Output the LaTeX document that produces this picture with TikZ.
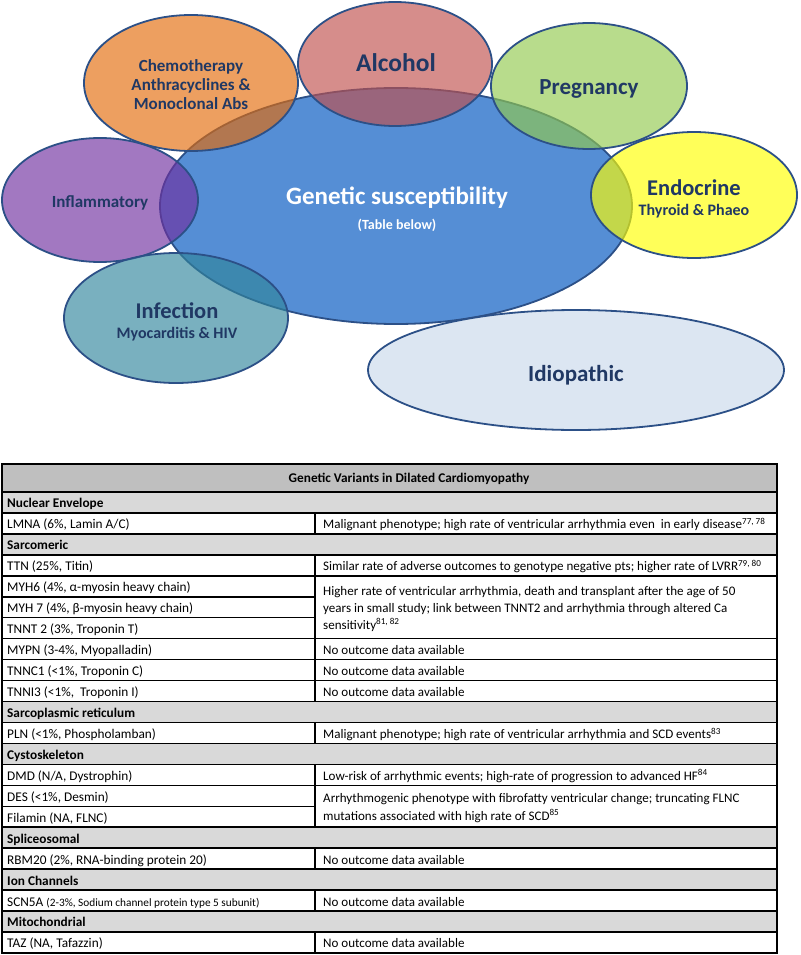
\documentclass[tikz,border=0pt]{standalone}
\usepackage{fontspec}
\setmainfont{Carlito}
\usetikzlibrary{shapes.geometric}
\definecolor{navy}{RGB}{32,56,100}
\definecolor{edge}{RGB}{44,80,135}
\definecolor{bigblue}{RGB}{85,142,213}
\definecolor{orangeC}{RGB}{228,108,10}
\definecolor{redC}{RGB}{192,80,77}
\definecolor{greenC}{RGB}{146,201,78}
\definecolor{yellowC}{RGB}{255,255,0}
\definecolor{purpleC}{RGB}{112,48,160}
\definecolor{tealC}{RGB}{49,133,156}
\definecolor{idioC}{RGB}{220,230,242}
\definecolor{hdrgray}{RGB}{191,191,191}
\definecolor{secgray}{RGB}{217,217,217}

\newcommand{\rowy}[1]{\pgfmathsetmacro\yt{492+(#1-1)*20.95}\pgfmathsetmacro\yb{492+#1*20.95}}
\newcommand{\secrow}[3]{\rowy{#1}%
  \draw[tbl, fill=secgray] (2,\yt) rectangle (777,\yb);
  \node[sect, anchor=base west] (#2) at (7,\yb-5) {#3};}
\newcommand{\datarow}[4]{\rowy{#1}%
  \draw[tbl] (2,\yt) rectangle (315,\yb);
  \draw[tbl] (315,\yt) rectangle (777,\yb);
  \node[cell, anchor=base west] (#2L) at (7,\yb-5) {#3};
  \node[cellR, anchor=base west] (#2R) at (323,\yb-5) {#4};}
\newcommand{\leftrow}[3]{\rowy{#1}%
  \draw[tbl] (2,\yt) rectangle (315,\yb);
  \node[cell, anchor=base west] (#2L) at (7,\yb-5) {#3};}

\begin{document}
\begin{tikzpicture}[x=1pt,y=-1pt,
  bub/.style={ellipse, draw=edge, line width=1.8pt, inner sep=0pt, fill opacity=0.65, text opacity=1},
  lab/.style={text=navy, align=center, inner sep=0pt, anchor=base},
  wlab/.style={text=white, align=center, inner sep=0pt, anchor=base},
  tbl/.style={draw=black, line width=1.5pt},
  cell/.style={inner sep=0pt, font=\fontsize{13.3}{16}\selectfont},
  cellR/.style={inner sep=0pt, font=\fontsize{13.05}{16}\selectfont},
  sect/.style={inner sep=0pt, font=\bfseries\fontsize{13.3}{16}\selectfont}]
\useasboundingbox (0,0) rectangle (800,955);

% ---- bubbles ----
\node[bub, fill=bigblue, fill opacity=1, minimum width=472pt, minimum height=236pt] (gen) at (396,206) {};
\node[bub, fill=orangeC, minimum width=214pt, minimum height=136pt] (chemo) at (191,83) {};
\node[bub, fill=redC, minimum width=194pt, minimum height=124pt] (alc) at (395,64) {};
\node[bub, fill=greenC, minimum width=196pt, minimum height=126pt] (preg) at (589,86) {};
\node[bub, fill=yellowC, minimum width=206pt, minimum height=126pt] (endo) at (694,195) {};
\node[bub, fill=purpleC, minimum width=196pt, minimum height=124pt] (infl) at (100,200) {};
\node[bub, fill=tealC, minimum width=224pt, minimum height=130pt] (infe) at (176,318) {};
\node[bub, fill=idioC, fill opacity=1, minimum width=416pt, minimum height=120pt] (idio) at (576,370) {};

% ---- bubble labels ----
\node[lab, font=\bfseries\fontsize{17}{19}\selectfont] (chemoA) at (191,72) {Chemotherapy};
\node[lab, font=\bfseries\fontsize{17}{19}\selectfont] (chemoB) at (191,91) {Anthracyclines \&};
\node[lab, font=\bfseries\fontsize{17}{19}\selectfont] (chemoC) at (191,110) {Monoclonal Abs};
\node[lab, font=\bfseries\fontsize{25.5}{28}\selectfont] (alcT) at (396,72) {Alcohol};
\node[lab, font=\bfseries\fontsize{23}{26}\selectfont] (pregT) at (589,95) {Pregnancy};
\node[lab, font=\bfseries\fontsize{17}{19}\selectfont] (inflT) at (100,207.5) {Inflammatory};
\node[wlab, font=\bfseries\fontsize{25}{28}\selectfont] (genT) at (397,204) {Genetic susceptibility};
\node[wlab, font=\bfseries\fontsize{14}{16}\selectfont] (genS) at (397,229) {(Table below)};
\node[lab, font=\bfseries\fontsize{22.5}{25}\selectfont] (endoT) at (694,195) {Endocrine};
\node[lab, font=\bfseries\fontsize{16}{18}\selectfont] (endoS) at (694,215) {Thyroid \& Phaeo};
\node[lab, font=\bfseries\fontsize{22.5}{25}\selectfont] (infeT) at (177,318) {Infection};
\node[lab, font=\bfseries\fontsize{16}{18}\selectfont] (infeS) at (177,338) {Myocarditis \& HIV};
\node[lab, font=\bfseries\fontsize{23}{26}\selectfont] (idioT) at (576,381.5) {Idiopathic};

% ---- table ----
\draw[tbl, fill=hdrgray] (2,464) rectangle (777,492);
\node[sect, anchor=base] (title) at (409,482) {Genetic Variants in Dilated Cardiomyopathy};

\secrow{1}{nuc}{Nuclear Envelope}
\datarow{2}{lmna}{LMNA (6\%, Lamin A/C)}{Malignant phenotype; high rate of ventricular arrhythmia even\ \ in early disease\textsuperscript{77, 78}}
\secrow{3}{sarc}{Sarcomeric}
\datarow{4}{ttn}{TTN (25\%, Titin)}{Similar rate of adverse outcomes to genotype negative pts; higher rate of LVRR\textsuperscript{79, 80}}
\leftrow{5}{myhsix}{MYH6 (4\%, α-myosin heavy chain)}
\leftrow{6}{myhseven}{MYH 7 (4\%, β-myosin heavy chain)}
\leftrow{7}{tnnt}{TNNT 2 (3\%, Troponin T)}
\rowy{5}\let\ytop\yt
\rowy{7}
\draw[tbl] (315,\ytop) rectangle (777,\yb);
\node[cellR, anchor=base west] (myhA) at (323,595) {Higher rate of ventricular arrhythmia, death and transplant after the age of 50};
\node[cellR, anchor=base west] (myhB) at (323,612) {years in small study; link between TNNT2 and arrhythmia through altered Ca};
\node[cellR, anchor=base west] (myhC) at (323,629) {sensitivity\textsuperscript{81, 82}};
\datarow{8}{mypn}{MYPN (3-4\%, Myopalladin)}{No outcome data available}
\datarow{9}{tnnc}{TNNC1 (<1\%, Troponin C)}{No outcome data available}
\datarow{10}{tnni}{TNNI3 (<1\%,\ \ Troponin I)}{No outcome data available}
\secrow{11}{sr}{Sarcoplasmic reticulum}
\datarow{12}{pln}{PLN (<1\%, Phospholamban)}{Malignant phenotype; high rate of ventricular arrhythmia and SCD events\textsuperscript{83}}
\secrow{13}{cyto}{Cystoskeleton}
\datarow{14}{dmd}{DMD (N/A, Dystrophin)}{Low-risk of arrhythmic events; high-rate of progression to advanced HF\textsuperscript{84}}
\leftrow{15}{des}{DES (<1\%, Desmin)}
\leftrow{16}{flnc}{Filamin (NA, FLNC)}
\rowy{15}\let\ytop\yt
\rowy{16}
\draw[tbl] (315,\ytop) rectangle (777,\yb);
\node[cellR, anchor=base west] (desA) at (323,802) {Arrhythmogenic phenotype with fibrofatty ventricular change; truncating FLNC};
\node[cellR, anchor=base west] (desB) at (323,820) {mutations associated with high rate of SCD\textsuperscript{85}};
\secrow{17}{splice}{Spliceosomal}
\datarow{18}{rbm}{RBM20 (2\%, RNA-binding protein 20)}{No outcome data available}
\secrow{19}{ion}{Ion Channels}
\datarow{20}{scn}{SCN5A {\fontsize{11.3}{13}\selectfont(2-3\%, Sodium channel protein type 5 subunit)}}{No outcome data available}
\secrow{21}{mito}{Mitochondrial}
\datarow{22}{taz}{TAZ (NA, Tafazzin)}{No outcome data available}
\end{tikzpicture}
\end{document}
